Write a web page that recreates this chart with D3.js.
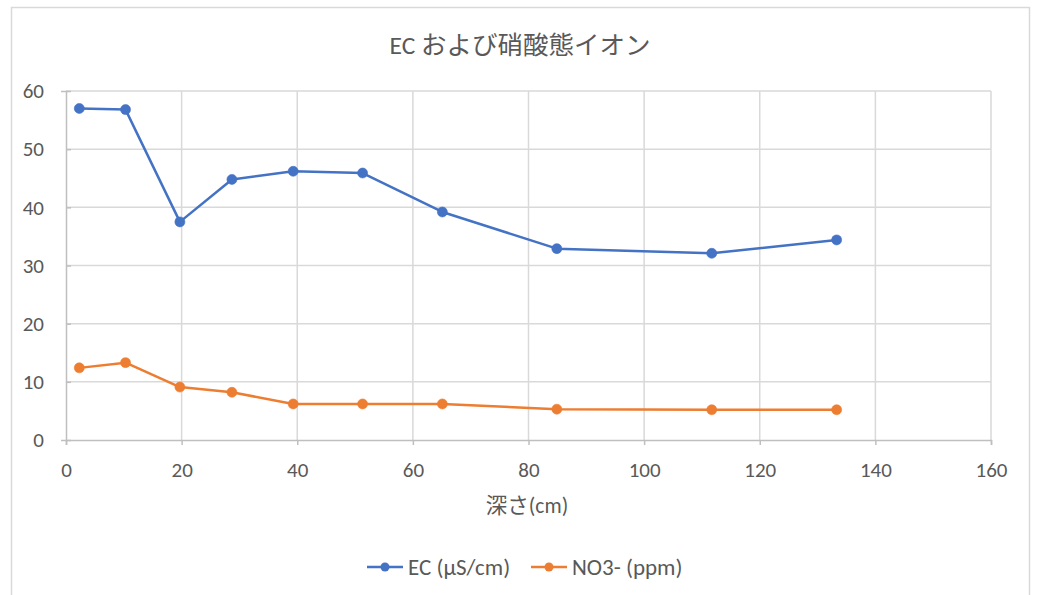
<!DOCTYPE html>
<html><head><meta charset="utf-8">
<script src="https://cdn.jsdelivr.net/npm/d3@7"></script>
<style>body{margin:0;background:#fff}</style>
</head><body>
<svg id="c" width="1040" height="595"></svg>
<script>
const depth = [2.3, 10.3, 19.7, 28.7, 39.3, 51.3, 65.1, 84.9, 111.7, 133.3];
const ecValues = [57.0, 56.8, 37.5, 44.8, 46.2, 45.9, 39.2, 32.9, 32.1, 34.4];
const no3Values = [12.4, 13.3, 9.1, 8.2, 6.2, 6.2, 6.2, 5.3, 5.2, 5.2];
const xTicks = [0, 20, 40, 60, 80, 100, 120, 140, 160];
const yTicks = [0, 10, 20, 30, 40, 50, 60];
const seriesNames = ["EC (μS/cm)", "NO3- (ppm)"];
const seriesColors = ["#4472C4", "#ED7D31"];
const titleText = "EC および硝酸態イオン";
const xTitle = "深さ(cm)";

const svg = d3.select("#c");
const font = "Calibri, Carlito, 'Open Sans', 'Noto Sans CJK JP', sans-serif";
const jpFont = "Calibri, Carlito, 'Noto Sans CJK JP', sans-serif";

svg.append("rect").attr("x", 11.5).attr("y", 7.5).attr("width", 1018).attr("height", 600)
  .attr("fill", "#fff").attr("stroke", "#d9d9d9").attr("stroke-width", 1.5);

const x = d3.scaleLinear().domain([0, 160]).range([66, 991]);
const y = d3.scaleLinear().domain([0, 60]).range([440, 91]);

// gridlines
const g = svg.append("g");
g.selectAll(".hg").data(yTicks.filter(d => d > 0)).join("line")
  .attr("x1", x(0)).attr("x2", x(160)).attr("y1", d => y(d)).attr("y2", d => y(d))
  .attr("stroke", "#d9d9d9").attr("stroke-width", 1.5);
g.selectAll(".vg").data(xTicks.filter(d => d > 0)).join("line")
  .attr("y1", y(0)).attr("y2", y(60)).attr("x1", d => x(d)).attr("x2", d => x(d))
  .attr("stroke", "#d9d9d9").attr("stroke-width", 1.5);

// axes
const xAxis = d3.axisBottom(x).tickValues(xTicks).tickSize(5).tickPadding(17);
const xa = svg.append("g").attr("transform", `translate(0,${y(0)})`).call(xAxis);
xa.select(".domain").attr("stroke", "#bfbfbf").attr("stroke-width", 1.5);
xa.selectAll(".tick line").attr("stroke", "#bfbfbf").attr("stroke-width", 1.5);
xa.selectAll("text").attr("fill", "#595959").style("font-family", font).style("font-size", "21px");

const yAxis = d3.axisLeft(y).tickValues(yTicks).tickSize(5).tickPadding(17);
const ya = svg.append("g").attr("transform", `translate(${x(0)},0)`).call(yAxis);
ya.select(".domain").attr("stroke", "#bfbfbf").attr("stroke-width", 1.5);
ya.selectAll(".tick line").attr("stroke", "#bfbfbf").attr("stroke-width", 1.5).attr("x2", 5);
ya.selectAll("text").attr("fill", "#595959").style("font-family", font).style("font-size", "21px");

// series
const series = [ecValues, no3Values];
const line = d3.line().x((d, i) => x(depth[i])).y(d => y(d));
series.forEach((vals, si) => {
  svg.append("path").datum(vals).attr("d", line).attr("fill", "none")
    .attr("stroke", seriesColors[si]).attr("stroke-width", 2.5).attr("stroke-linejoin", "round");
  svg.append("g").selectAll("circle").data(vals).join("circle")
    .attr("cx", (d, i) => x(depth[i])).attr("cy", d => y(d)).attr("r", 5)
    .attr("fill", seriesColors[si]).attr("stroke", seriesColors[si]).attr("stroke-opacity", 0.6).attr("stroke-width", 1);
});

// title
svg.append("text").attr("x", 520).attr("y", 54).attr("text-anchor", "middle")
  .attr("fill", "#595959").style("font-family", jpFont).style("font-size", "25.5px").text(titleText);
svg.append("text").attr("x", 527).attr("y", 513).attr("text-anchor", "middle")
  .attr("fill", "#595959").style("font-family", jpFont).style("font-size", "21.5px").text(xTitle);

// legend
const legX = [367, 531];
seriesNames.forEach((name, i) => {
  const lg = svg.append("g");
  lg.append("line").attr("x1", legX[i]).attr("x2", legX[i] + 36).attr("y1", 567).attr("y2", 567)
    .attr("stroke", seriesColors[i]).attr("stroke-width", 2.5);
  lg.append("circle").attr("cx", legX[i] + 18).attr("cy", 567).attr("r", 4.5).attr("fill", seriesColors[i]);
  lg.append("text").attr("x", legX[i] + 41).attr("y", 575).attr("fill", "#595959")
    .style("font-family", font).style("font-size", "23px").text(name);
});
</script>
</body></html>
